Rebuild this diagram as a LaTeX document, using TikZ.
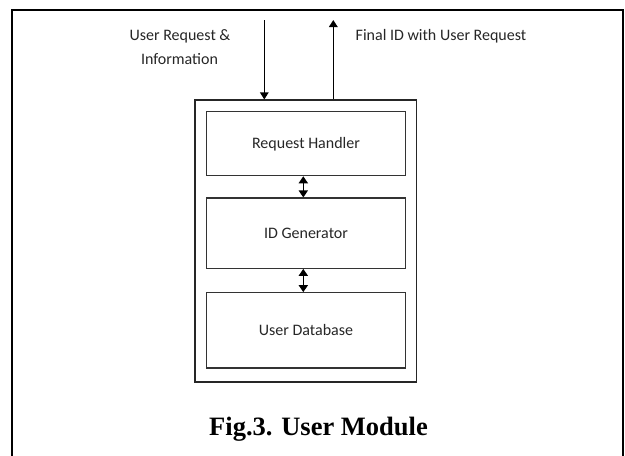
\documentclass[tikz,border=0pt]{standalone}
\usepackage{fontspec}
\setmainfont{Carlito}
\newfontfamily\capfont{Liberation Serif}
\usetikzlibrary{arrows.meta}
\begin{document}
\begin{tikzpicture}[x=1pt,y=-1pt,
  lbl/.style={font=\fontsize{16}{19}\selectfont, text=black!85, inner sep=0pt},
  blk/.style={draw=black!80, line width=1.1pt, rectangle, inner sep=0pt, minimum width=198.6pt,
     text height=10.3pt, text depth=0pt, font=\fontsize{16}{19}\selectfont, text=black!85},
  mod/.style={draw=black!85, line width=1.1pt, rectangle, inner sep=0pt},
  flow/.style={line width=1.1pt, -{Triangle[length=7pt,width=8.5pt]}},
  dbl/.style={line width=1.6pt, {Triangle[length=7pt,width=9pt]}-{Triangle[length=7pt,width=9pt]}}
]
\useasboundingbox (0,0) rectangle (625,456);
\clip (0,0) rectangle (625,456);
% outer frame (open at bottom)
\draw[line width=2pt] (11.8,460) -- (11.8,10) -- (623.3,10) -- (623.3,460);
% module box
\node[mod, minimum width=221.7pt, minimum height=282pt] (module) at (305.85,241) {};
% blocks
\node[blk, minimum height=64pt] (rh) at (306,143.7) {Request Handler};
\node[blk, minimum height=70.3pt] (idg) at (306,233.15) {ID Generator};
\node[blk, minimum height=75.3pt] (udb) at (306,330.35) {User Database};
% double arrows
\draw[dbl] ([xshift=-2.7pt]rh.south) -- ([xshift=-2.7pt]idg.north);
\draw[dbl] ([xshift=-2.7pt]idg.south) -- ([xshift=-2.7pt]udb.north);
% input / output arrows
\coordinate (inp) at (264.3,20);
\coordinate (outp) at (333.3,20);
\draw[flow] (inp) -- (inp |- module.north);
\draw[flow, line width=1.5pt] (outp |- module.north) -- (outp);
% labels
\node[lbl, anchor=base] (in1) at (180,40.7) {User Request \&};
\node[lbl, anchor=base] (in2) at (179.5,64.3) {Information};
\node[lbl, anchor=base] (out1) at (441,40.3) {Final ID with User Request};
% caption
\node[anchor=base, inner sep=0pt, font=\capfont\bfseries\fontsize{26.5}{30}\selectfont] (cap) at (318.5,435) {Fig.3. User Module};
\end{tikzpicture}
\end{document}
